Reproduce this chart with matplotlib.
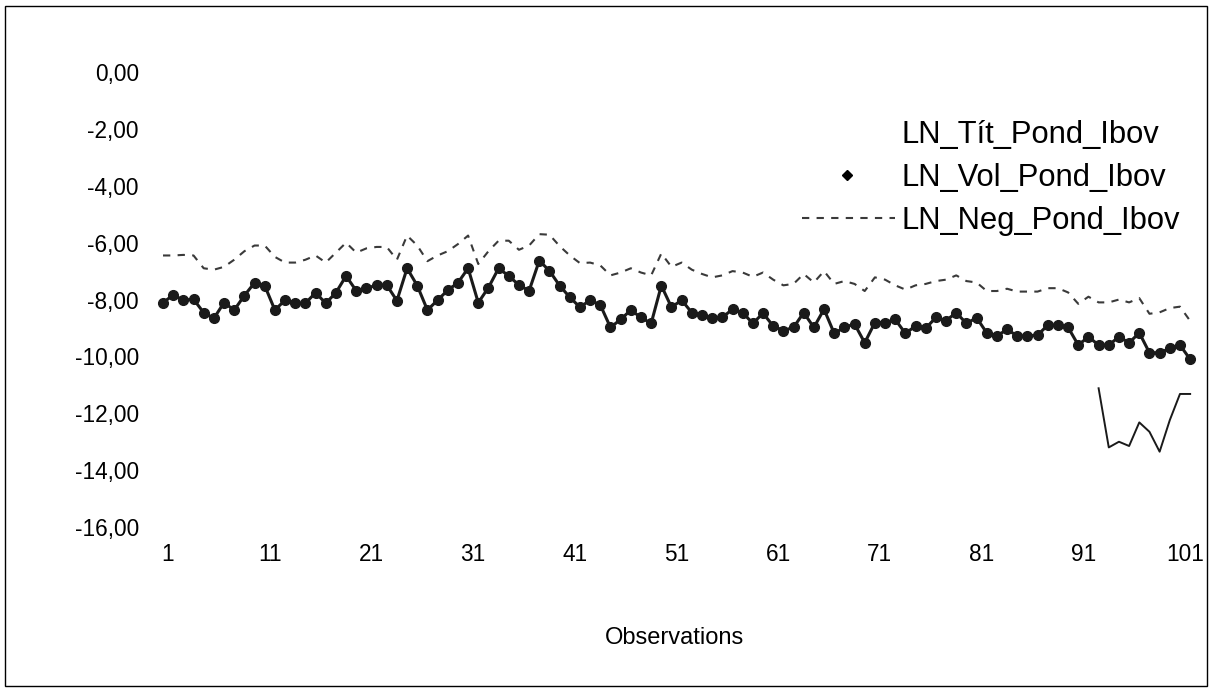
import matplotlib
matplotlib.use('Agg')
import matplotlib.pyplot as plt
import matplotlib.transforms as mtransforms
from matplotlib.lines import Line2D
from matplotlib.patches import Rectangle
import numpy as np

plt.rcParams['font.family'] = ['Liberation Sans', 'DejaVu Sans']

# observations 1..102
ln_vol = [-8.11, -7.84, -8.02, -7.99, -8.46, -8.66, -8.11, -8.37, -7.86, -7.41,
          -7.51, -8.37, -8.02, -8.13, -8.13, -7.76, -8.13, -7.76, -7.17, -7.69,
          -7.61, -7.49, -7.49, -8.04, -6.90, -7.51, -8.37, -8.02, -7.67, -7.41,
          -6.90, -8.11, -7.58, -6.90, -7.17, -7.49, -7.69, -6.63, -6.99, -7.51,
          -7.92, -8.27, -8.02, -8.19, -8.98, -8.70, -8.37, -8.63, -8.84, -7.51,
          -8.27, -8.02, -8.46, -8.54, -8.66, -8.63, -8.34, -8.46, -8.84, -8.48,
          -8.93, -9.09, -8.98, -8.46, -8.98, -8.34, -9.19, -8.98, -8.86, -9.52,
          -8.81, -8.81, -8.70, -9.19, -8.93, -9.01, -8.63, -8.74, -8.46, -8.84,
          -8.64, -9.17, -9.28, -9.05, -9.28, -9.28, -9.25, -8.90, -8.90, -8.98,
          -9.60, -9.31, -9.60, -9.60, -9.31, -9.52, -9.17, -9.87, -9.87, -9.72,
          -9.60, -10.10]

ln_neg = [-6.45, -6.45, -6.43, -6.45, -6.90, -6.95, -6.85, -6.60, -6.30, -6.10,
          -6.10, -6.50, -6.70, -6.70, -6.60, -6.45, -6.70, -6.35, -6.00, -6.35,
          -6.20, -6.15, -6.15, -6.60, -5.75, -6.10, -6.65, -6.45, -6.30, -6.05,
          -5.75, -6.75, -6.30, -5.93, -5.93, -6.25, -6.10, -5.70, -5.72, -6.12,
          -6.45, -6.72, -6.70, -6.80, -7.15, -7.05, -6.90, -7.05, -7.15, -6.38,
          -6.85, -6.70, -6.95, -7.10, -7.22, -7.15, -7.00, -7.05, -7.20, -7.05,
          -7.30, -7.50, -7.45, -7.10, -7.40, -7.00, -7.45, -7.35, -7.45, -7.70,
          -7.22, -7.30, -7.50, -7.65, -7.50, -7.45, -7.35, -7.30, -7.15, -7.35,
          -7.40, -7.70, -7.70, -7.62, -7.72, -7.72, -7.72, -7.60, -7.60, -7.75,
          -8.15, -7.90, -8.10, -8.10, -8.00, -8.10, -7.95, -8.50, -8.45, -8.30,
          -8.25, -8.75]

# only the last ten observations exist for this one
tit_obs = [93, 94, 95, 96, 97, 98, 99, 100, 101, 102]
ln_tit = [-11.12, -13.20, -13.00, -13.15, -12.32, -12.65, -13.35, -12.24, -11.32, -11.32]

series_names = ['LN_Tít_Pond_Ibov', 'LN_Vol_Pond_Ibov', 'LN_Neg_Pond_Ibov']
y_ticks = [0, -2, -4, -6, -8, -10, -12, -14, -16]
x_ticks = [1, 11, 21, 31, 41, 51, 61, 71, 81, 91, 101]

W, H = 1215, 691
NEG_STYLE = dict(color='#3a3a3a', lw=1.5, ls=(0, (3.5, 3.5)))

obs = np.arange(1, len(ln_vol) + 1)

fig = plt.figure(figsize=(W / 100, H / 100), dpi=100)
ax = fig.add_axes([150 / W, 156 / H, 1050 / W, 480 / H])

ax.plot(obs, ln_neg, **NEG_STYLE)
ax.plot(obs, ln_vol, color='#1a1a1a', lw=2.2, marker='o', ms=7)
ax.plot(tit_obs, ln_tit, color='#1a1a1a', lw=1.4)

ax.set_xlim(-0.28, 102.97)
ax.set_ylim(-16.28, 0.6)
ax.set_xticks(x_ticks)
ax.set_yticks(y_ticks)
ax.set_yticklabels([f'{v:.2f}'.replace('.', ',') for v in y_ticks])
ax.tick_params(length=0, labelsize=16.3)
ax.tick_params(axis='y', pad=8)
ax.tick_params(axis='x', pad=6)
# category labels sit a few pixels right of their points in the original
shift = mtransforms.ScaledTranslation(5 / 100, 0, fig.dpi_scale_trans)
for lab in ax.get_xticklabels():
    lab.set_transform(lab.get_transform() + shift)
for s in ax.spines.values():
    s.set_visible(False)
ax.set_xlabel('Observations', fontsize=17, labelpad=44)


# legend, laid out by hand (pixel positions, top-left origin)
def fx(px):
    return px / W


def fy(py):
    return 1 - py / H


text_x = 901
baselines = [143, 186, 229]
for name, base in zip(series_names, baselines):
    fig.text(fx(text_x), fy(base), name, fontsize=22.3, ha='left', va='baseline')
fig.add_artist(Line2D([fx(847)], [fy(175)], color='black', marker='D', ms=5, ls='none'))
fig.add_artist(Line2D([fx(802), fx(895)], [fy(218), fy(218)], **NEG_STYLE))

fig.patches.append(Rectangle((5 / W, 5 / H), 1202 / W, 680 / H,
                             transform=fig.transFigure, fill=False, ec='black', lw=1))

fig.savefig('out.png', dpi=100)
